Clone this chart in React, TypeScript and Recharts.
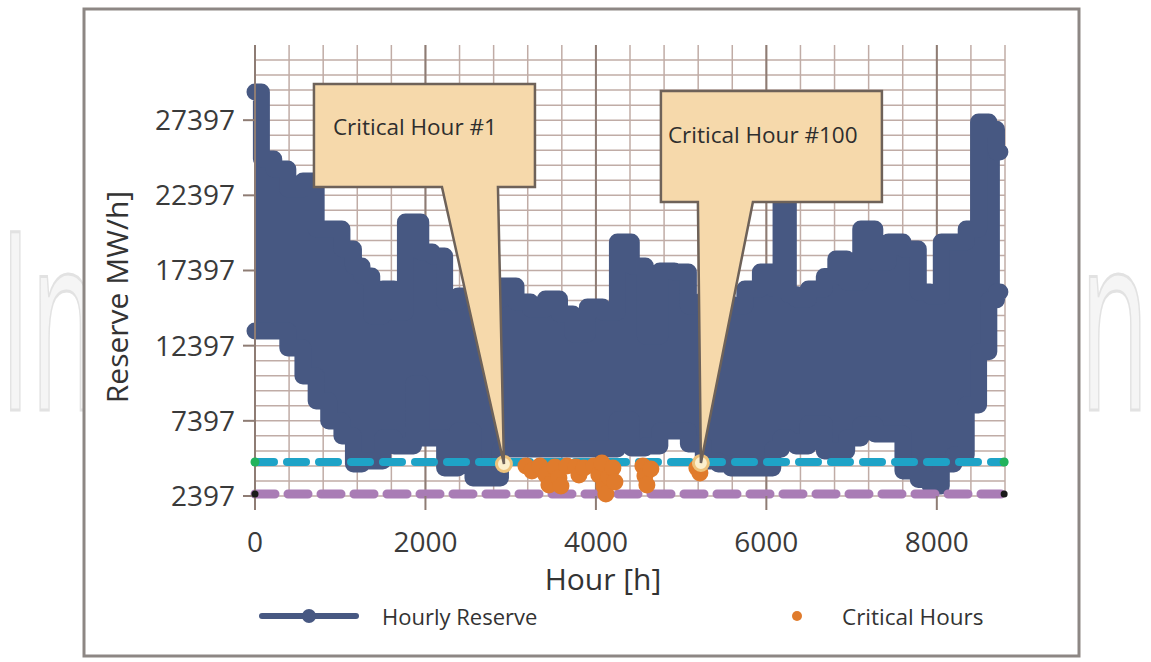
import React from 'react';
import {
  ComposedChart,
  Area,
  Line,
  Scatter,
  XAxis,
  YAxis,
  CartesianGrid,
  ReferenceLine,
  ReferenceDot,
} from 'recharts';

// ---------- data ----------
const reserveHours = [0, 150, 290, 480, 645, 790, 940, 1100, 1210, 1300, 1440, 1560, 1700, 1830, 1890, 2000, 2160, 2290, 2475, 2640, 2780, 2980, 3145, 3320, 3495, 3650, 3810, 3990, 4165, 4340, 4490, 4670, 4830, 5010, 5160, 5360, 5510, 5655, 5840, 6020, 6130, 6215, 6300, 6395, 6590, 6770, 6860, 7025, 7190, 7355, 7510, 7695, 7870, 7975, 8130, 8270, 8420, 8560, 8660, 8740];
const reserveHigh = [29275, 24818, 24152, 22822, 23354, 20161, 20161, 18830, 17700, 17034, 14373, 16169, 14639, 20626, 20626, 18630, 18364, 15304, 15703, 15437, 15437, 16368, 15304, 14838, 15504, 14506, 13175, 14971, 14639, 19296, 17699, 13042, 17366, 17300, 15038, 15437, 15200, 15038, 16169, 17300, 16200, 22756, 15800, 15504, 16169, 17000, 18165, 16634, 20161, 17965, 19296, 18830, 15969, 15703, 19296, 19296, 20161, 27279, 26800, 25283];
const reserveLow = [13375, 13375, 13375, 12243, 10381, 8717, 7387, 6389, 4526, 4726, 4726, 6256, 5724, 5724, 9848, 6256, 6256, 4260, 6721, 3595, 3595, 5524, 5524, 5524, 5524, 5524, 5524, 5524, 5524, 7453, 5590, 5724, 6721, 6721, 5857, 4726, 4526, 4260, 4260, 4260, 5500, 6256, 6000, 5724, 7187, 5391, 5391, 6256, 7120, 6522, 6522, 4060, 3500, 3062, 4526, 5125, 8451, 12000, 15437, 15969];

const criticalHours = [3179, 3249, 3343, 3413, 3449, 3519, 3566, 3590, 3660, 3765, 3801, 3859, 3977, 4035, 4070, 4094, 4117, 4153, 4199, 4223, 4551, 4575, 4598, 4645, 5185, 5220];
const criticalValues = [4393, 4060, 4393, 3794, 3129, 4326, 3595, 3062, 4393, 4326, 3794, 4260, 4393, 3794, 4592, 3062, 2530, 3661, 4260, 3328, 4393, 3728, 3129, 4193, 4260, 3927];

const markedHours = [2921, 5232];
const markedValues = [4526, 4593];
const calloutLabels = ['Critical Hour #1', 'Critical Hour #100'];

const thresholdHours = [0, 8790];
const upperThreshold = 4660;
const lowerThreshold = 2530;

const xTicks = [0, 2000, 4000, 6000, 8000];
const yTicks = [2397, 7397, 12397, 17397, 22397, 27397];
const xGridTicks = [0, 400, 800, 1200, 1600, 2000, 2400, 2800, 3200, 3600, 4000, 4400, 4800, 5200, 5600, 6000, 6400, 6800, 7200, 7600, 8000, 8400, 8800];
const yGridTicks = [2397, 3397, 4397, 5397, 6397, 7397, 8397, 9397, 10397, 11397, 12397, 13397, 14397, 15397, 16397, 17397, 18397, 19397, 20397, 21397, 22397, 23397, 24397, 25397, 26397, 27397, 28397, 29397, 30397, 31397];
const xDomain = [0, 8800];
const yDomain = [2397, 32397];

// ---------- tables built from the arrays ----------
const reserveData = reserveHours.map((h, i) => ({
  hour: h,
  high: reserveHigh[i],
  low: reserveLow[i],
  range: [reserveLow[i], reserveHigh[i]],
}));
const criticalData = criticalHours.map((h, i) => ({ hour: h, value: criticalValues[i] }));
const markedData = markedHours.map((h, i) => ({ hour: h, value: markedValues[i] }));
const upperData = thresholdHours.map((h) => ({ hour: h, v: upperThreshold }));
const lowerData = thresholdHours.map((h) => ({ hour: h, v: lowerThreshold }));

// ---------- styles ----------
const FONT = "'Open Sans', 'DejaVu Sans', sans-serif";
const BLUE = '#475882';
const ORANGE = '#e07b2c';
const CYAN = '#1ea3c7';
const PURPLE = '#a97cb5';
const GRID = '#c0aca6';
const MAJOR = '#8e7c74';
const TEXT = '#3a3a3a';

const calloutGeom = [
  { l: -190, r: 31, t: -380, b: -277, bl: -62, br: -6, tx: -171, ty: -329 },
  { l: -40, r: 181, t: -372, b: -261, bl: -3, br: 52, tx: -33, ty: -320 },
];

const makeCallout = (idx: number) => (props: any) => {
  const { cx, cy } = props;
  const g = calloutGeom[idx];
  const d = `M${cx + g.l},${cy + g.t} H${cx + g.r} V${cy + g.b} H${cx + g.br} L${cx},${cy} L${cx + g.bl},${cy + g.b} H${cx + g.l} Z`;
  return (
    <g>
      <path d={d} fill="#f6d9ab" stroke="#6e6259" strokeWidth={2.5} strokeLinejoin="miter" />
      <text x={cx + g.tx} y={cy + g.ty} fontSize={22.5} fontFamily={FONT} fill="#2e2e2e">
        {calloutLabels[idx]}
      </text>
    </g>
  );
};

const orangeDot = (p: any) => <circle cx={p.cx} cy={p.cy} r={8.5} fill={ORANGE} />;
const creamDot = (p: any) => (
  <circle cx={p.cx} cy={p.cy} r={7.5} fill="#fbefcc" stroke="#eec27a" strokeWidth={3} />
);

const watermarkStyle = {
  fontSize: 250,
  fontFamily: FONT,
  fill: '#f5f5f5',
  stroke: '#e2e2e2',
  strokeWidth: 3,
};

export default function App() {
  return (
    <div style={{ position: 'absolute', left: 0, top: 0, width: 1151, height: 662, background: '#fff', fontFamily: FONT }}>
      <svg width={1151} height={662} style={{ position: 'absolute', left: 0, top: 0 }}>
        <text transform="translate(0,410) scale(0.44,1)" x={0} y={0} {...watermarkStyle}>
          In
        </text>
        <text transform="translate(1080,410) scale(0.45,1)" x={0} y={0} {...watermarkStyle}>
          n
        </text>
        <rect x={84} y={9} width={995} height={647} fill="#ffffff" stroke="#8d8784" strokeWidth={3} />
        <text x={603} y={578} textAnchor="middle" dominantBaseline="central" fontSize={30} fill="#333" fontFamily={FONT}>
          Hour [h]
        </text>
        <text
          transform="translate(116,297) rotate(-90)"
          textAnchor="middle"
          dominantBaseline="central"
          fontSize={30}
          fill="#333"
          fontFamily={FONT}
        >
          Reserve MW/h]
        </text>
        <line x1={262} y1={616} x2={356} y2={616} stroke={BLUE} strokeWidth={6} strokeLinecap="round" />
        <circle cx={309} cy={616} r={7} fill={BLUE} />
        <text x={382} y={616} dominantBaseline="central" fontSize={22} fill="#333" fontFamily={FONT}>
          Hourly Reserve
        </text>
        <circle cx={797} cy={616} r={5} fill={ORANGE} />
        <text x={842} y={616} dominantBaseline="central" fontSize={22.5} fill="#333" fontFamily={FONT}>
          Critical Hours
        </text>
      </svg>
      <div style={{ position: 'absolute', left: 0, top: 0 }}>
        <ComposedChart
          width={1151}
          height={662}
          data={reserveData}
          margin={{ top: 45, right: 146, bottom: 106, left: 155 }}
        >
          <XAxis xAxisId="g" type="number" dataKey="hour" domain={xDomain} ticks={xGridTicks} interval={0} hide />
          <CartesianGrid xAxisId="g" horizontal={false} stroke={GRID} strokeWidth={1.5} />
          <XAxis
            type="number"
            dataKey="hour"
            domain={xDomain}
            ticks={xTicks}
            interval={0}
            height={60}
            axisLine={false}
            tickSize={14}
            tickMargin={22}
            tickLine={{ stroke: MAJOR, strokeWidth: 2 }}
            tick={{ fontSize: 28, fill: TEXT, fontFamily: FONT }}
          />
          <YAxis
            type="number"
            domain={yDomain}
            ticks={yTicks}
            interval={0}
            width={100}
            tickSize={12}
            tickMargin={8}
            axisLine={{ stroke: MAJOR, strokeWidth: 2 }}
            tickLine={{ stroke: MAJOR, strokeWidth: 2 }}
            tick={{ fontSize: 28, fill: TEXT, fontFamily: FONT }}
          />
          {yGridTicks.map((v) => (
            <ReferenceLine key={'h' + v} y={v} stroke={GRID} strokeWidth={1.5} zIndex={-95} />
          ))}
          {xTicks.map((v) => (
            <ReferenceLine key={'v' + v} x={v} stroke={MAJOR} strokeWidth={2} zIndex={-90} />
          ))}
          <Area
            type="step"
            dataKey="range"
            fill={BLUE}
            fillOpacity={1}
            stroke="none"
            isAnimationActive={false}
            legendType="none"
          />
          <Line
            type="step"
            dataKey="high"
            stroke={BLUE}
            strokeWidth={17}
            strokeLinejoin="round"
            strokeLinecap="round"
            dot={false}
            activeDot={false}
            isAnimationActive={false}
            name="Hourly Reserve"
          />
          <Line
            type="step"
            dataKey="low"
            stroke={BLUE}
            strokeWidth={17}
            strokeLinejoin="round"
            strokeLinecap="round"
            dot={false}
            activeDot={false}
            isAnimationActive={false}
            legendType="none"
          />
          <Line
            data={lowerData}
            dataKey="v"
            stroke={PURPLE}
            strokeWidth={9}
            strokeDasharray="20 13"
            strokeLinecap="round"
            dot={{ r: 3.5, fill: '#1a1a1a', stroke: 'none' }}
            activeDot={false}
            isAnimationActive={false}
            legendType="none"
          />
          <Line
            data={upperData}
            dataKey="v"
            stroke={CYAN}
            strokeWidth={8}
            strokeDasharray="19 13"
            strokeLinecap="round"
            dot={{ r: 4.5, fill: '#22b35c', stroke: 'none' }}
            activeDot={false}
            isAnimationActive={false}
            legendType="none"
          />
          <Scatter data={criticalData} dataKey="value" shape={orangeDot} isAnimationActive={false} name="Critical Hours" />
          <Scatter data={markedData} dataKey="value" shape={creamDot} isAnimationActive={false} legendType="none" />
          {markedHours.map((h, i) => (
            <ReferenceDot key={'c' + i} x={h} y={markedValues[i]} shape={makeCallout(i)} zIndex={1500} />
          ))}
        </ComposedChart>
      </div>
    </div>
  );
}
